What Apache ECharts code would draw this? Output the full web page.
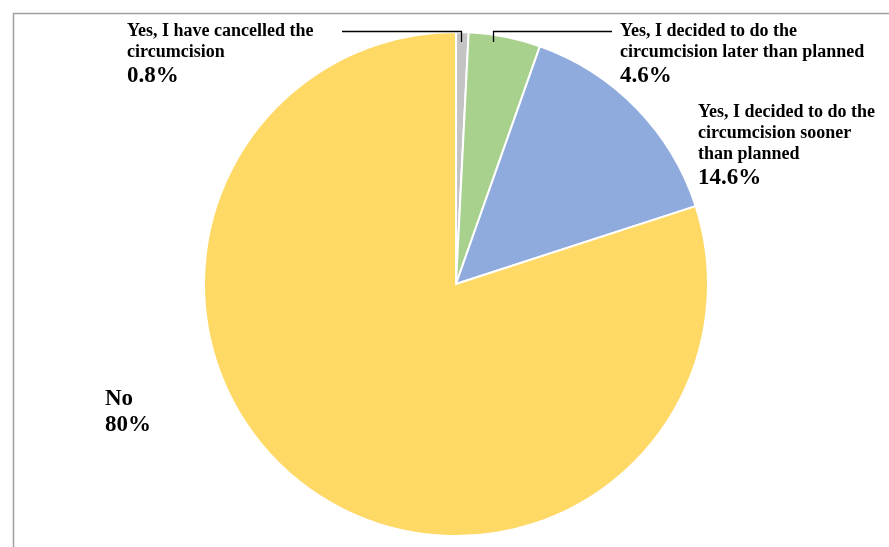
<!DOCTYPE html>
<html>
<head>
<meta charset="utf-8">
<title>Circumcision plans</title>
<script src="https://cdn.jsdelivr.net/npm/echarts@6/dist/echarts.min.js"></script>
<style>
  html, body { margin: 0; padding: 0; background: #fff; }
  #chart { width: 889px; height: 547px; }
</style>
</head>
<body>
<div id="chart"></div>
<script>
// data
const categories = [
  'Yes, I have cancelled the\ncircumcision',
  'Yes, I decided to do the\ncircumcision later than planned',
  'Yes, I decided to do the\ncircumcision sooner\nthan planned',
  'No'
];
const values = [0.8, 4.6, 14.6, 80];
const colors = ['#c4c4c4', '#a9d18e', '#8faadc', '#ffd966'];

// label placement (left, top)
const labelPos = [
  { x: 127, y: 21 },
  { x: 620, y: 21 },
  { x: 698, y: 102 },
  { x: 105, y: 386 }
];
// leader lines for the two thin slices, drawn over the pie
const leaderLines = [
  [[461.5, 42], [461.5, 31.5], [342, 31.5]],
  [[493.5, 42], [493.5, 31.5], [612, 31.5]]
];

const chart = echarts.init(document.getElementById('chart'));

const option = {
  animation: false,
  graphic: [
    {
      type: 'rect',
      shape: { x: 13.5, y: 13.5, width: 900, height: 560 },
      style: { fill: 'none', stroke: '#a0a0a0', lineWidth: 1.5 }
    },
    ...leaderLines.map((pts) => ({
      type: 'polyline',
      z: 100,
      shape: { points: pts },
      style: { fill: 'none', stroke: '#000', lineWidth: 1.3 }
    }))
  ],
  series: [
    {
      type: 'pie',
      center: [456, 284],
      radius: 252,
      startAngle: 90,
      clockwise: true,
      avoidLabelOverlap: false,
      itemStyle: { borderColor: '#fff', borderWidth: 2 },
      label: {
        show: true,
        position: 'outside',
        color: '#000',
        fontFamily: 'Liberation Serif',
        fontWeight: 'bold',
        formatter: (p) => `{n|${p.name}}\n{v|${p.value}%}`,
        rich: {
          n: { fontFamily: 'Liberation Serif', fontWeight: 'bold', fontSize: 18, lineHeight: 21, color: '#000' },
          v: { fontFamily: 'Liberation Serif', fontWeight: 'bold', fontSize: 23, lineHeight: 26, color: '#000' },
          big: { fontFamily: 'Liberation Serif', fontWeight: 'bold', fontSize: 23, lineHeight: 26, color: '#000' }
        }
      },
      labelLine: { show: false },
      labelLayout: (params) => {
        const pos = labelPos[params.dataIndex];
        return { x: pos.x, y: pos.y, align: 'left', verticalAlign: 'top', hideOverlap: false };
      },
      data: values.map((v, i) => {
        const item = { name: categories[i], value: v, itemStyle: { color: colors[i] } };
        if (categories[i] === 'No') {
          item.label = { formatter: (p) => `{big|${p.name}}\n{big|${p.value}%}` };
        }
        return item;
      })
    }
  ]
};

chart.setOption(option);
window.addEventListener('resize', () => chart.resize());
</script>
</body>
</html>
